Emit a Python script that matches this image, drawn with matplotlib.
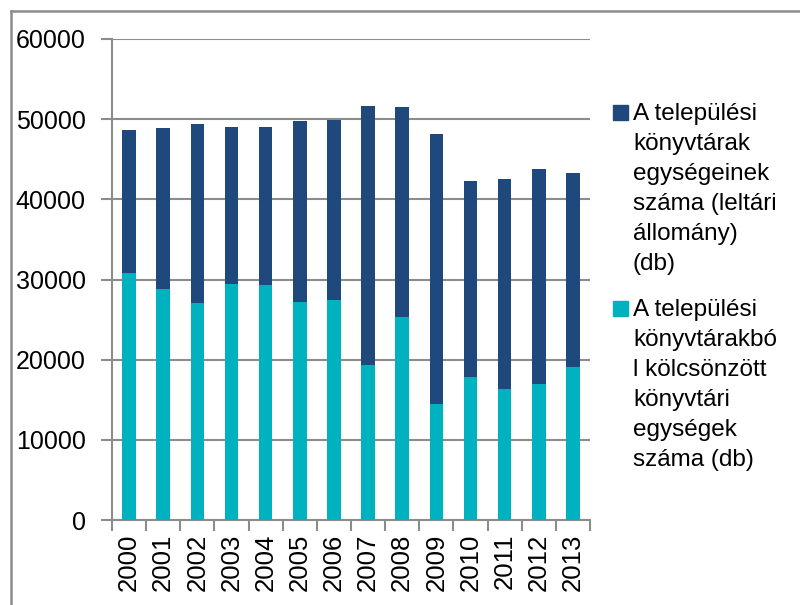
import numpy as np
import matplotlib
matplotlib.use("Agg")
import matplotlib.pyplot as plt
from matplotlib.patches import Rectangle
from matplotlib.lines import Line2D

# adatok (ezer db)
evek = ["2000", "2001", "2002", "2003", "2004", "2005", "2006",
        "2007", "2008", "2009", "2010", "2011", "2012", "2013"]
leltari_allomany = [48620, 48920, 49380, 49000, 49050, 49800, 49880,
                    51620, 51500, 48210, 42340, 42550, 43800, 43250]
kolcsonzott = [30810, 28850, 27100, 29480, 29350, 27190, 27400,
               19360, 25320, 14490, 17820, 16400, 16990, 19110]

legend_1 = ["A települési", "könyvtárak", "egységeinek",
            "száma (leltári", "állomány)", "(db)"]
legend_2 = ["A települési", "könyvtárakbó", "l kölcsönzött",
            "könyvtári", "egységek", "száma (db)"]

sotet = "#1F497D"
turkiz = "#00B2BF"
szurke = "#8C8C8C"

plt.rcParams['font.family'] = ['Liberation Sans', 'DejaVu Sans']

W, H = 800, 605
fig = plt.figure(figsize=(8, 6.05), dpi=100)
ax = fig.add_axes([112 / W, 1 - 520 / H, (590 - 112) / W, (520 - 39) / H])

x = np.arange(len(evek))
ax.bar(x, leltari_allomany, width=0.4, color=sotet, zorder=2)
ax.bar(x, kolcsonzott, width=0.4, color=turkiz, zorder=3)

ax.set_xlim(-0.5, len(evek) - 0.5)
ax.set_ylim(0, 60000)
ax.set_yticks(np.arange(0, 60001, 10000))
ax.set_yticklabels([str(v) for v in range(0, 60001, 10000)])
ax.yaxis.grid(True, color=szurke, linewidth=1.5, zorder=0)
ax.set_axisbelow(True)

# x tengely: kategóriahatárokon kis jelölők
ax.set_xticks(np.arange(-0.5, len(evek)), minor=False)
ax.set_xticklabels([])
ax.set_xticks(x, minor=True)
ax.set_xticklabels(evek, minor=True, rotation=90)
ax.tick_params(axis='x', which='major', length=8, width=1.5, color=szurke, direction='out')
ax.tick_params(axis='x', which='minor', length=0, pad=10, labelsize=18.5)
ax.tick_params(axis='y', length=8, width=1.5, color=szurke, labelsize=18, pad=11)

for side in ['top', 'right']:
    ax.spines[side].set_visible(False)
for side in ['left', 'bottom']:
    ax.spines[side].set_color(szurke)
    ax.spines[side].set_linewidth(1.5)

# külső keret (levágva)
fig.add_artist(Line2D([10.5 / W, 10.5 / W], [0, 1 - 11 / H], color=szurke, linewidth=1.8))
fig.add_artist(Line2D([10.5 / W, 1], [1 - 11 / H, 1 - 11 / H], color=szurke, linewidth=1.8))

# jelmagyarázat
def jelmagyarazat(sorok, szin, y_alap):
    fig.add_artist(Rectangle((613 / W, 1 - y_alap / H), 15 / W, 15 / H,
                             transform=fig.transFigure, color=szin))
    for i, sor in enumerate(sorok):
        fig.text(633 / W, 1 - (y_alap + 30 * i) / H, sor, fontsize=17.5,
                 va='baseline', ha='left')

jelmagyarazat(legend_1, sotet, 120)
jelmagyarazat(legend_2, turkiz, 316)

fig.savefig("out.png", dpi=100)
